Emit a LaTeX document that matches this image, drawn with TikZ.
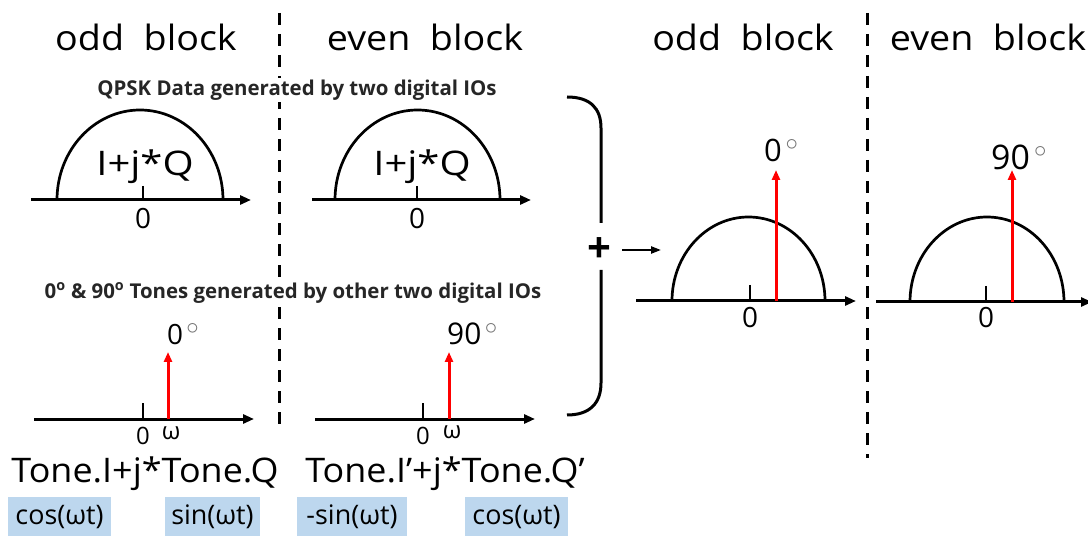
\documentclass[tikz,border=0pt]{standalone}
\usepackage{fontspec}
\setmainfont{Open Sans}
\newfontfamily\widefont[FakeStretch=1.08]{Open Sans}
\newfontfamily\widerfont[FakeStretch=1.18]{Open Sans}
\newfontfamily\tonefont[FakeStretch=1.06]{Open Sans}
\usetikzlibrary{arrows.meta}
\definecolor{boxblue}{HTML}{BDD7EE}
\newcommand{\degsym}{\hspace{0.12em}\raisebox{0.36em}{\fontsize{25}{25}\selectfont\textcolor{black!55}{$\circ$}}}
\begin{document}
\begin{tikzpicture}[x=1bp,y=-1bp,
  axis/.style={line width=3bp,-{Triangle[length=11bp,width=9bp]}},
  semi/.style={line width=2.7bp},
  tick/.style={line width=2.4bp},
  tonearrow/.style={red,line width=3bp,-{Triangle[length=10bp,width=8bp]}},
  divider/.style={line width=3bp,dash pattern=on 12bp off 9bp},
  title/.style={font=\widefont\fontsize{35}{35}\selectfont,inner sep=0pt},
  big/.style={font=\widerfont\fontsize{34}{34}\selectfont,inner sep=0pt},
  tonetxt/.style={font=\tonefont\fontsize{34}{34}\selectfont,inner sep=0pt},
  deg/.style={inner sep=0pt,anchor=base west},
  zero/.style={font=\fontsize{28}{28}\selectfont,inner sep=0pt},
  zerosmall/.style={font=\fontsize{24}{24}\selectfont,inner sep=0pt},
  head/.style={font=\bfseries\fontsize{20.5}{20.5}\selectfont,inner sep=2pt,fill=white,text=black!85},
  fbox/.style={fill=boxblue,inner sep=0pt,minimum height=40bp,font=\fontsize{27}{27}\selectfont}
]
\useasboundingbox (0,0) rectangle (1088,536);

% titles
\node[title] (t1) at (146,37) {odd\ \ block};
\node[title] (t2) at (425,37) {even\ \ block};
\node[title] (t3) at (743,37) {odd\ \ block};
\node[title] (t4) at (988,37) {even\ \ block};

% dividers
\draw[divider] (279,13) -- (279,433);
\draw[divider] (867,13) -- (867,458);

% headers
\node[head] (h1) at (297,90) {QPSK Data generated by two digital IOs};
\node[head] (h2) at (293,293) {0\textsuperscript{o} \& 90\textsuperscript{o} Tones generated by other two digital IOs};

% QPSK odd
\draw[axis] (31,200) -- (251,200);
\draw[semi] (57,200) arc[start angle=180,end angle=360,x radius=83,y radius=90];
\draw[tick] (143,186) -- (143,200);
\node[zero] (z1) at (143,219) {0};
\node[big] (iq1) at (145,167) {I+j*Q};

% QPSK even
\draw[axis] (312,200) -- (531,200);
\draw[semi] (335,200) arc[start angle=180,end angle=360,x radius=82.5,y radius=90];
\draw[tick] (417,186) -- (417,200);
\node[zero] (z2) at (417,219) {0};
\node[big] (iq2) at (422,167) {I+j*Q};

% tone odd
\draw[axis] (34,419) -- (254,419);
\draw[tick] (143,403) -- (143,419);
\draw[tonearrow] (168,419) -- (168,352);
\node[deg,font=\fontsize{28}{28}\selectfont] (d1) at (167,345) {0\degsym};
\node[zerosmall] (z3) at (143,436) {0};
\node[zerosmall] (w1) at (171,433) {ω};

% tone even
\draw[axis] (315,419) -- (535,419);
\draw[tick] (423,403) -- (423,419);
\draw[tonearrow] (449,419) -- (449,352);
\node[deg,font=\fontsize{30}{30}\selectfont] (d2) at (447,345) {90\degsym};
\node[zerosmall] (z4) at (423,436) {0};
\node[zerosmall] (w2) at (452,432) {ω};

% tone expressions
\node[tonetxt] (e1) at (145,474) {Tone.I+j*Tone.Q};
\node[tonetxt] (e2) at (445,474) {Tone.I’+j*Tone.Q’};

% blue boxes
\node[fbox,minimum width=103bp] (b1) at (59.5,517) {cos(ωt)};
\node[fbox,minimum width=95bp] (b2) at (212.5,517) {sin(ωt)};
\node[fbox,minimum width=110bp] (b3) at (352,517) {-sin(ωt)};
\node[fbox,minimum width=103bp] (b4) at (516.5,517) {cos(ωt)};

% bracket and plus
\draw[line width=3bp] (567,97) .. controls (590,97) and (601,108) .. (601,128) -- (601,223);
\draw[line width=3bp] (601,270) -- (601,383) .. controls (601,403) and (590,415) .. (567,415);
\node[font=\bfseries\fontsize{42}{42}\selectfont,inner sep=0pt] (plus) at (599,250) {+};
\coordinate (arrS) at (622,250);
\coordinate (arrE) at (661,250);
\draw[line width=2.2bp,-{Triangle[length=10bp,width=7bp]}] (arrS) -- (arrE);

% result odd
\draw[axis] (636,301) -- (856,301);
\draw[semi] (672,301) arc[start angle=180,end angle=360,x radius=76.5,y radius=84];
\draw[tick] (750,285) -- (750,301);
\node[zero] (z5) at (750,318) {0};
\draw[tonearrow] (776,301) -- (776,170);
\node[deg,font=\fontsize{31}{31}\selectfont] (d3) at (764,162) {0\degsym};

% result even
\draw[axis] (876,302) -- (1092,302);
\draw[semi] (910,302) arc[start angle=180,end angle=360,x radius=77,y radius=85];
\draw[tick] (986,286) -- (986,302);
\node[zero] (z6) at (986,318) {0};
\draw[tonearrow] (1012,302) -- (1012,170);
\node[deg,font=\fontsize{34}{34}\selectfont] (d4) at (991,170) {90\degsym};
\end{tikzpicture}
\end{document}
